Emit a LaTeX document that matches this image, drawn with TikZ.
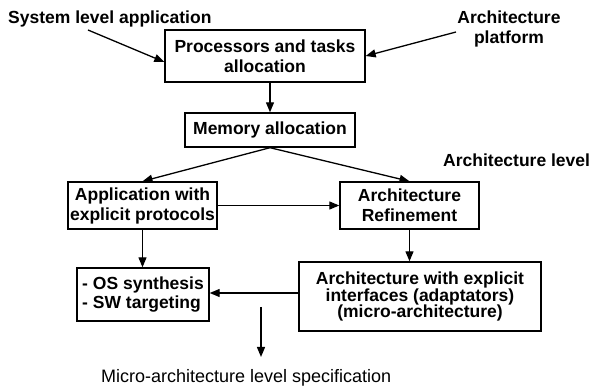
\documentclass[tikz,border=0pt]{standalone}
\usepackage{fontspec}
\setmainfont{Liberation Sans}
\usetikzlibrary{arrows.meta}

\begin{document}
\begin{tikzpicture}[x=1pt,y=-1pt,
    box/.style={draw,line width=1.4pt,inner sep=0pt,font=\bfseries\fontsize{17.5}{20}\selectfont},
    lbl/.style={inner sep=0pt,font=\bfseries\fontsize{17.5}{20}\selectfont},
    arr/.style={line width=1.3pt,-{Triangle[length=10pt,width=8pt]}}]
    \useasboundingbox (0,0) rectangle (592,387);
    \node[box,align=center,minimum width=200,minimum height=52] (proc) at (265,56) {Processors and tasks\\allocation};
    \node[box,align=center,minimum width=170,minimum height=34] (mem) at (270,130) {Memory allocation};
    \node[box,align=center,minimum width=149,minimum height=47] (app) at (142.5,205.5) {Application with\\explicit protocols};
    \node[box,align=center,minimum width=139,minimum height=47] (refine) at (409.5,205.5) {Architecture\\Refinement};
    \node[box,align=center,minimum width=242,minimum height=69,font=\bfseries\fontsize{17.5}{16.5}\selectfont] (expl) at (420,296.5) {Architecture with explicit\\interfaces (adaptators)\\(micro-architecture)};
    \node[box,align=left,minimum width=132,minimum height=53,font=\bfseries\fontsize{17.5}{19}\selectfont] (os) at (143,294.5) {- OS synthesis\\- SW targeting};
    \node[lbl,anchor=base west] (sysapp) at (8,24) {System level application};
    \node[lbl,align=center] (platform) at (509,29) {Architecture\\platform};
    \node[lbl,anchor=base west] (archlevel) at (443,167) {Architecture level};
    \node[inner sep=0pt,anchor=base west,font=\fontsize{18}{20}\selectfont] (micro) at (101,383) {Micro-architecture level specification};
    \coordinate (sysstart) at (88,30);
    \coordinate (platstart) at (456,32);
    \coordinate (spec) at (261,307);
    \coordinate (specend) at (261,357);
    % arrows
    \draw[arr] (sysstart) -- ([yshift=-6pt]proc.west);
    \draw[arr] (platstart) -- (proc.east);
    \draw[arr] (proc.south -| mem) -- (mem.north);
    \draw[arr] (mem.south) -- (app.north);
    \draw[arr] (mem.south) -- (refine.north);
    \draw[arr] (app.east) -- (refine.west);
    \draw[arr] (refine.south) -- (refine.south |- expl.north);
    \draw[arr] (app.south) -- (app.south |- os.north);
    \draw[arr] ([yshift=3.5pt]expl.west) -- ([yshift=3.5pt]expl.west -| os.east);
    \draw[arr] (spec) -- (specend);
\end{tikzpicture}
\end{document}
